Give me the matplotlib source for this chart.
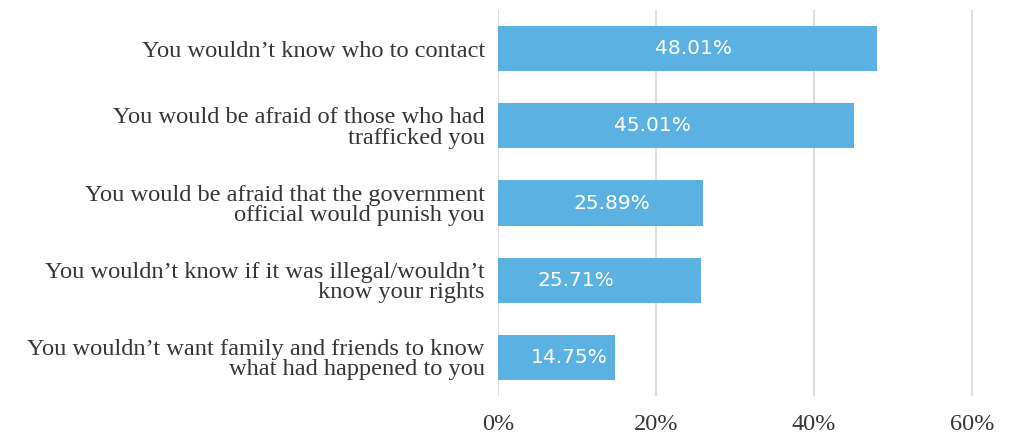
import matplotlib
matplotlib.use("Agg")
import matplotlib.pyplot as plt

# Survey answers: reasons for not contacting a government official
reasons = [
    "You wouldn\u2019t know who to contact",
    "You would be afraid of those who had\ntrafficked you",
    "You would be afraid that the government\nofficial would punish you",
    "You wouldn\u2019t know if it was illegal/wouldn\u2019t\nknow your rights",
    "You wouldn\u2019t want family and friends to know\nwhat had happened to you",
]
shares = [48.01, 45.01, 25.89, 25.71, 14.75]
x_ticks = [0, 20, 40, 60]
x_ticklabels = ["0%", "20%", "40%", "60%"]

# horizontal nudge (pixels) of each value label from its bar's centre
label_nudge = [5.5, -23, 12, -24, 13]

bar_color = "#5cb1e3"
text_color = "#363636"
serif = ["Liberation Serif", "DejaVu Serif"]

fig = plt.figure(figsize=(10.21, 4.40), dpi=100)
ax = fig.add_axes([498 / 1021, 44 / 440, 517.5 / 1021, 386 / 440])

ypos = list(range(len(reasons)))
bars = ax.barh(ypos, shares, height=0.585, color=bar_color, zorder=2)

for bar, val, dx in zip(bars, shares, label_nudge):
    cx = bar.get_x() + bar.get_width() / 2
    cy = bar.get_y() + bar.get_height() / 2
    ax.annotate(f"{val:.2f}%", (cx, cy), xytext=(dx, 0), textcoords="offset pixels",
                ha="center", va="center", color="white", fontsize=14.5,
                family="DejaVu Sans", zorder=3)

ax.set_xlim(0, 65.5)
ax.set_ylim(4.5, -0.5)

ax.set_xticks(x_ticks)
ax.set_xticklabels(x_ticklabels, family=serif, fontsize=17.5, color=text_color)
ax.set_yticks(ypos)
ax.set_yticklabels(reasons, family=serif, fontsize=17.6, color=text_color,
                   linespacing=0.96)

ax.tick_params(axis="both", length=0)
ax.tick_params(axis="x", pad=13)
ax.tick_params(axis="y", pad=9.5)

ax.grid(axis="x", color="#dedede", linewidth=1.5, zorder=0)
ax.grid(axis="y", visible=False)
ax.set_axisbelow(True)
for s in ax.spines.values():
    s.set_visible(False)

fig.savefig("out.png", dpi=100)
